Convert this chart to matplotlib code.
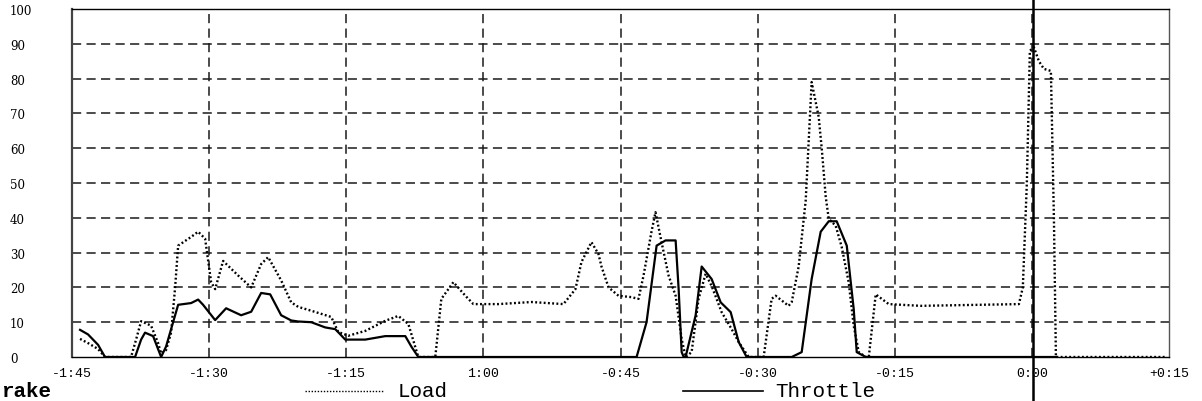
import matplotlib

matplotlib.use("Agg")
import matplotlib.pyplot as plt
from matplotlib.lines import Line2D

# Time relative to the event, in minutes
LOAD_T = [-104.12, -103.25, -102.15, -101.39, -98.54, -97.99, -97.44, -96.35,
          -95.58, -95.25, -94.71, -94.16, -93.72, -93.39, -91.97, -91.20,
          -90.44, -89.78, -89.34, -88.47, -86.82, -85.40, -84.31, -83.54,
          -82.12, -81.02, -80.25, -78.83, -76.64, -75.88, -74.78, -72.92,
          -70.73, -69.31, -68.21, -67.12, -65.26, -64.60, -63.28, -61.97,
          -61.09, -58.36, -54.74, -51.24, -49.93, -49.27, -48.18, -47.41,
          -47.08, -46.31, -45.22, -43.80, -43.03, -42.48, -41.61, -41.17,
          -40.51, -39.74, -38.97, -38.31, -37.88, -37.22, -36.46, -35.69,
          -35.03, -33.94, -32.84, -32.07, -30.98, -29.34, -28.47, -28.03,
          -26.61, -26.27, -25.51, -24.74, -24.09, -23.32, -22.99, -22.55,
          -22.22, -21.46, -20.80, -20.04, -19.49, -18.94, -18.17, -17.84,
          -17.08, -16.42, -15.66, -12.15, -1.42, -0.99, -0.55, -0.22,
          0.22, 0.77, 1.31, 2.08, 2.41, 2.63, 14.78]
LOAD = [5.2, 4.0, 2.3, 0, 0, 5.0, 10.3, 9.0,
        4.0, 1.0, 2.0, 7.0, 20.0, 32.0, 34.5, 36.0,
        34.0, 21.5, 19.5, 27.6, 23.4, 20.0, 26.7, 28.7,
        22.0, 15.7, 14.4, 13.3, 11.5, 7.2, 6.1, 7.5,
        10.4, 11.8, 9.5, 0, 0, 16.7, 21.5, 17.6,
        15.2, 15.2, 15.8, 15.2, 19.5, 27.3, 33.0, 29.6,
        26.0, 20.0, 17.6, 17.2, 16.7, 23.4, 36.0, 41.6,
        33.0, 23.4, 17.6, 5.2, 0, 1.4, 16.7, 23.9,
        20.4, 12.9, 8.0, 4.3, 0, 0, 16.7, 17.6,
        14.7, 15.8, 26.0, 45.0, 79.0, 69.0, 60.0, 46.0,
        39.7, 37.7, 31.6, 21.5, 9.0, 1.4, 0, 0,
        18.0, 16.7, 15.2, 14.7, 15.2, 20.0, 50.0, 88.0,
        89.0, 85.0, 82.8, 82.2, 40.0, 0, 0]

THROTTLE_T = [-104.12, -103.25, -102.15, -101.39, -98.10, -97.44, -97.01,
              -96.13, -95.25, -94.71, -94.16, -93.39, -91.97, -91.20, -90.66,
              -89.34, -88.14, -86.50, -85.40, -84.31, -83.32, -82.12, -81.02,
              -80.25, -78.83, -77.30, -76.20, -75.11, -72.92, -70.73, -68.54,
              -67.88, -67.12, -43.24, -42.15, -41.05, -40.07, -38.97, -38.64,
              -38.31, -38.09, -37.88, -36.78, -36.12, -35.03, -34.04, -32.95,
              -32.07, -31.20, -26.27, -25.18, -24.09, -23.10, -22.22, -21.35,
              -20.25, -19.49, -19.16, -18.17, 2.63]
THROTTLE = [7.8, 6.5, 3.5, 0, 0, 5.0, 7.0,
            6.0, 0, 3.0, 8.0, 15.0, 15.5, 16.5, 15.0,
            10.6, 14.0, 12.0, 13.0, 18.4, 18.0, 12.0, 10.5,
            10.2, 10.0, 8.5, 8.0, 5.0, 5.0, 6.0, 6.0,
            3.0, 0, 0, 10.0, 32.0, 33.5, 33.5, 19.5,
            1.4, 0, 0, 12.0, 26.0, 22.4, 15.7, 12.9,
            4.3, 0, 0, 1.4, 22.4, 36.0, 39.0, 39.0,
            32.0, 13.8, 1.4, 0, 0]

X_TICKS = [-105, -90, -75, -60, -45, -30, -15, 0, 15]
X_LABELS = ["-1:45", "-1:30", "-1:15", "1:00", "-0:45", "-0:30", "-0:15",
            "0:00", "+0:15"]
Y_TICKS = [0, 10, 20, 30, 40, 50, 60, 70, 80, 90, 100]

W, H = 1202, 402
fig = plt.figure(figsize=(W / 100, H / 100), dpi=100)
ax = fig.add_axes([72 / W, 44 / H, 1097 / W, 348 / H])

ax.plot(LOAD_T, LOAD, color="black", lw=1.7, ls=(0, (0.8, 1.0)), zorder=3)
ax.plot(THROTTLE_T, THROTTLE, color="black", lw=1.6, zorder=4)

ax.set_xlim(-105, 15)
ax.set_ylim(0, 100)
ax.set_xticks(X_TICKS)
ax.set_xticklabels(X_LABELS, family="Liberation Mono", fontsize=9.5)
ax.set_yticks(Y_TICKS)
ax.set_yticklabels([str(v) for v in Y_TICKS], family="DejaVu Serif", fontsize=8.5)
ax.tick_params(axis="both", length=0)
ax.tick_params(axis="x", pad=7)
ax.tick_params(axis="y", pad=44.6)
for lbl in ax.get_yticklabels():
    lbl.set_horizontalalignment("left")

for v in Y_TICKS[1:-1]:
    ax.axhline(v, color="#1a1a1a", lw=1.1, dashes=(6, 3.5), zorder=1)
for t in X_TICKS[1:-1]:
    ax.axvline(t, color="#1a1a1a", lw=1.1, dashes=(6, 3.5), zorder=1)

for side in ["top", "bottom", "right"]:
    ax.spines[side].set_linewidth(1.0)
ax.spines["left"].set_linewidth(1.6)
ax.spines["left"].set_color("#444444")
ax.spines["right"].set_color("#555555")

# event cursor through the whole sheet
fig.add_artist(Line2D([1033 / W, 1033 / W], [0, 1], color="black", lw=1.8,
                      transform=fig.transFigure))

# legend along the bottom edge
ly = 1 - 392 / H
fig.add_artist(Line2D([305 / W, 383 / W], [ly, ly], color="black", lw=1.0,
                      ls=(0, (1, 1.2)), transform=fig.transFigure))
fig.text(398 / W, ly, "Load", family="Liberation Mono", fontsize=15,
         va="center", ha="left")
fig.add_artist(Line2D([683 / W, 763 / W], [ly, ly], color="black", lw=1.2,
                      transform=fig.transFigure))
fig.text(775 / W, ly, "Throttle", family="Liberation Mono", fontsize=15,
         va="center", ha="left")

fig.text(1 / W, 1 / H, "rake", family="Liberation Mono",
         fontsize=15, weight="bold", va="bottom", ha="left")

fig.savefig("out.png", dpi=100)
